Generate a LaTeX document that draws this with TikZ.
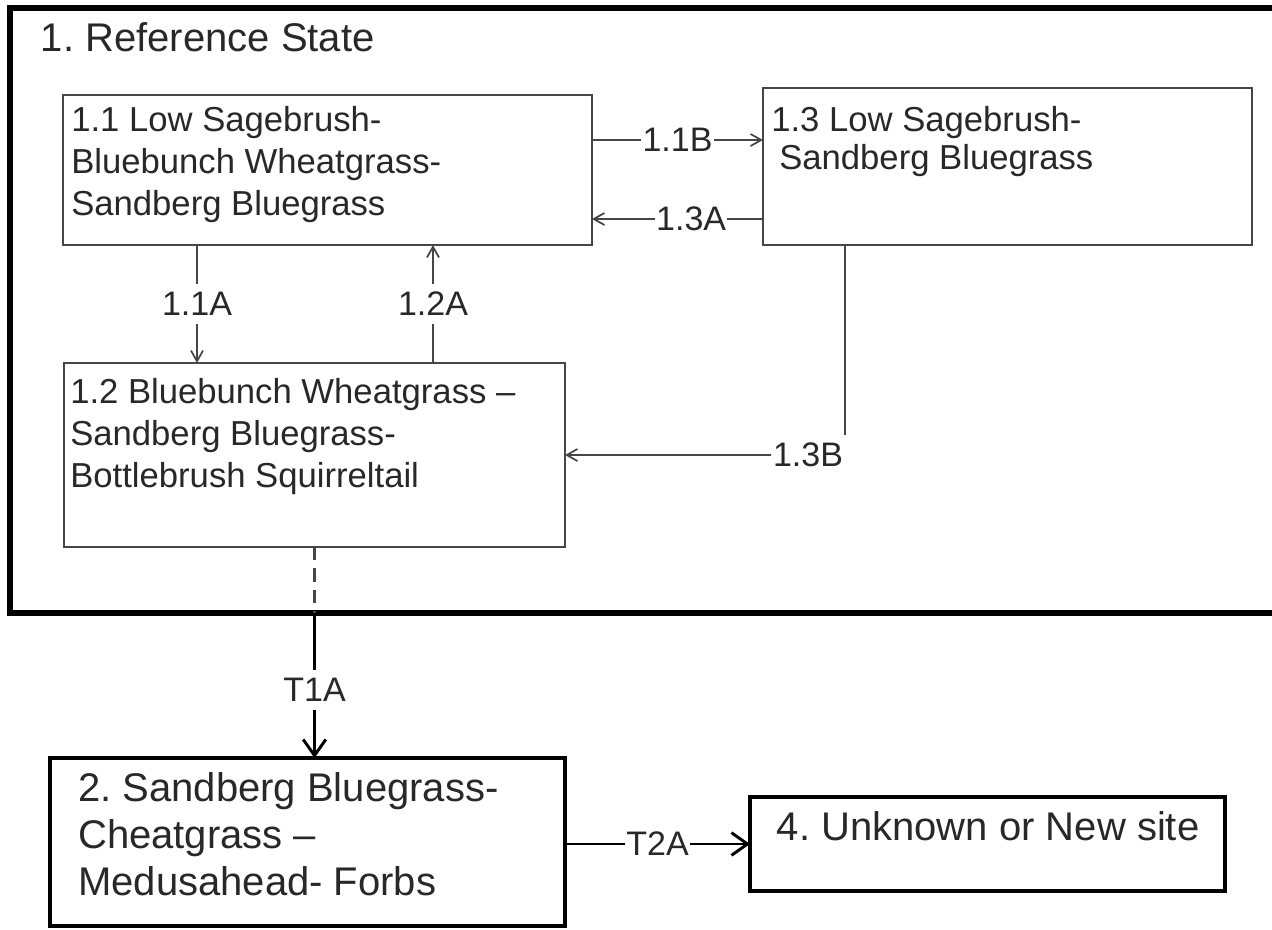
\documentclass[tikz,border=0pt]{standalone}
\usepackage{fontspec}
\setmainfont{Liberation Sans}
\usetikzlibrary{arrows.meta, positioning}
\definecolor{boxgray}{RGB}{70,70,70}
\definecolor{textgray}{RGB}{40,40,40}
\frenchspacing

\begin{document}
\begin{tikzpicture}[x=0.75pt,y=0.75pt,yscale=-1,xscale=1,
  statebox/.style={draw=boxgray, line width=1.5pt, anchor=north west, inner sep=0pt, outer sep=0pt},
  heavybox/.style={draw=black, line width=3pt, anchor=north west, inner sep=0pt, outer sep=0pt},
  boxtext/.style={inner sep=0pt, align=left, text=textgray, font=\fontsize{26}{31.5}\selectfont},
  bigtext/.style={inner sep=0pt, align=left, text=textgray, font=\fontsize{30}{35}\selectfont},
  pathlabel/.style={fill=white, inner xsep=1pt, inner ysep=6pt, text=textgray, font=\fontsize{25.5}{30}\selectfont},
  pathway/.style={draw=boxgray, line width=1.3pt, -{Straight Barb[length=8pt,width=9pt]}},
  transition/.style={draw=black, line width=2.2pt, -{Straight Barb[length=12pt,width=17pt]}}
]
\useasboundingbox (0,0) rectangle (1272,929);
\clip (0,0) rectangle (1272,929);

%Shape: Rectangle - reference state
\node[heavybox, line width=4pt, minimum width=967.5pt, minimum height=453.75pt] (ref) at (10,8) {};
% Text Node
\node[bigtext, below right=10.5pt and 23pt of ref.north west] (tref) {1. Reference State};

%Shape: Rectangle - community phases
\node[statebox, minimum width=396.75pt, minimum height=112.5pt] (b11) at (63,95) {};
\node[statebox, minimum width=366.75pt, minimum height=117.75pt] (b13) at (763,88) {};
\node[statebox, minimum width=375.75pt, minimum height=138pt] (b12) at (64,363) {};

% Text Node
\node[boxtext, below right=8pt and 6pt of b11.north west] (t11) {1.1 Low Sagebrush-\\Bluebunch Wheatgrass-\\Sandberg Bluegrass};
% Text Node
\node[boxtext, below right=13.5pt and 6pt of b13.north west, font=\fontsize{26}{28.5}\selectfont] (t13) {1.3 Low Sagebrush-\\\hspace*{6pt}Sandberg Bluegrass};
% Text Node
\node[boxtext, below right=11pt and 4.5pt of b12.north west] (t12) {1.2 Bluebunch Wheatgrass --\\Sandberg Bluegrass-\\Bottlebrush Squirreltail};

%Shape: Rectangle - states 2 and 4
\node[heavybox, minimum width=386.25pt, minimum height=126pt] (b2) at (50,758) {};
\node[heavybox, minimum width=356.25pt, minimum height=70.5pt] (b4) at (750,797) {};
% Text Node
\node[bigtext, below right=11pt and 21pt of b2.north west] (t2) {2. Sandberg Bluegrass-\\Cheatgrass --\\Medusahead- Forbs};
% Text Node
\node[bigtext, below right=11pt and 20pt of b4.north west] (t4) {4. Unknown or New site};

%Straight Lines - community pathways
\coordinate (y11B) at (0,140);
\coordinate (y13A) at (0,219);
\coordinate (x11A) at (197,0);
\coordinate (x12A) at (433,0);
\draw[pathway] (b11.east |- y11B) -- node[pathlabel] (l11B) {1.1B} (b13.west |- y11B);
\draw[pathway] (b13.west |- y13A) -- node[pathlabel, pos=0.42] (l13A) {1.3A} (b11.east |- y13A);
\draw[pathway] (b11.south -| x11A) -- node[pathlabel] (l11A) {1.1A} (b12.north -| x11A);
\draw[pathway] (b12.north -| x12A) -- node[pathlabel] (l12A) {1.2A} (b11.south -| x12A);

%Straight Lines - 1.3B
\node[pathlabel] (l13B) at (808,455) {1.3B};
\draw[boxgray, line width=1.4pt] (b13.south -| l13B.north east) -- (l13B.north east);
\draw[pathway] (l13B.west) -- (l13B.west -| b12.east);

%Straight Lines - transitions
\draw[boxgray, line width=1.6pt, dash pattern=on 10pt off 6pt] (b12.south) -- (b12.south |- ref.south);
\draw[transition] (b12.south |- ref.south) -- node[pathlabel, pos=0.53] (lT1A) {T1A} (b12.south |- b2.north);
\draw[transition] (b2.east |- b4.west) -- node[pathlabel] (lT2A) {T2A} (b4.west);

\end{tikzpicture}
\end{document}
